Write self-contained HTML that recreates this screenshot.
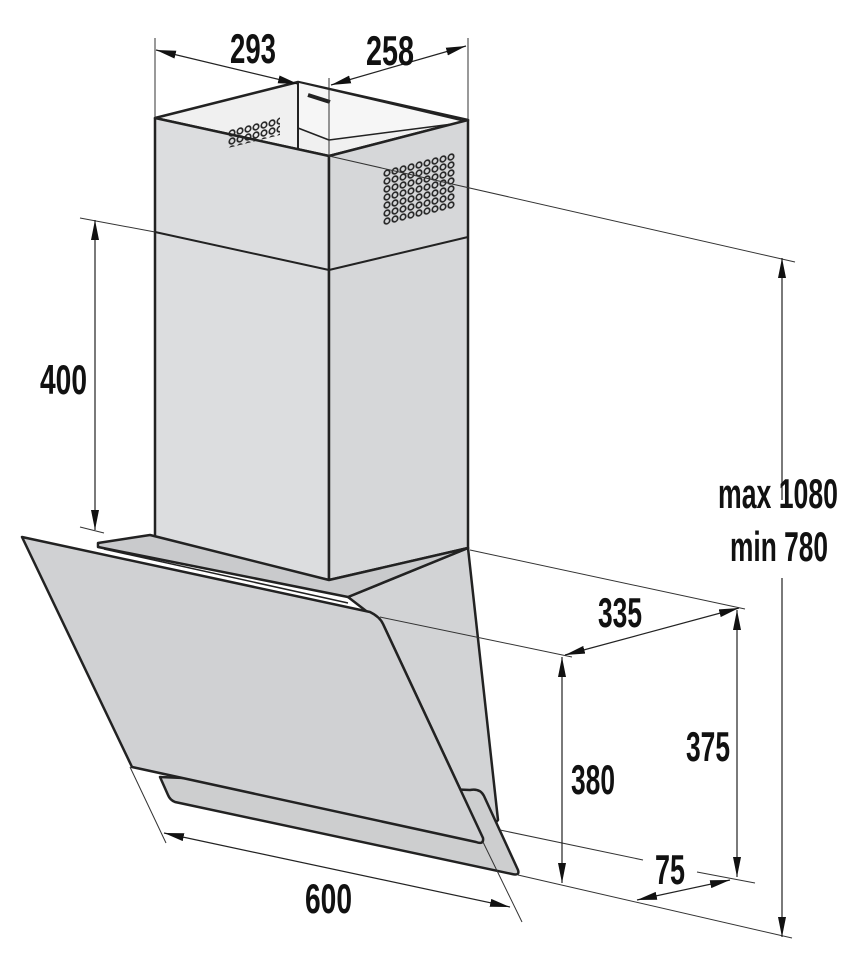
<!DOCTYPE html>
<html><head><meta charset="utf-8"><style>
html,body{margin:0;padding:0;background:#fff;}
svg{display:block}
text{font-family:"Liberation Sans",sans-serif;fill:#111;}
</style></head><body>
<svg width="867" height="966" viewBox="0 0 867 966" xmlns="http://www.w3.org/2000/svg">
<defs>
<marker id="a" viewBox="0 0 20 8" refX="20" refY="4" markerWidth="20" markerHeight="8" markerUnits="userSpaceOnUse" orient="auto-start-reverse"><path d="M0,0 L20,4 L0,8 Z" fill="#111"/></marker>
<pattern id="dots" width="8" height="8" patternUnits="userSpaceOnUse"><circle cx="4" cy="4" r="2.8" fill="none" stroke="#222" stroke-width="1.6"/></pattern>
</defs>
<g fill="#dcdddf" stroke="#222" stroke-width="2.5" stroke-linejoin="round">
<polygon points="155,118 298,82 468,120 329,156" fill="#f0f0f0"/>
<polygon points="298,82 298,128 329,140 468,122" fill="#f6f6f6" stroke-width="1.5"/>
<!-- body behind glass -->
<polygon points="468,548 498,820 483,838 383,624 348,597" fill="#d2d3d5"/>
<!-- chimney faces -->
<polygon points="155,118 329,156 329,580 155,545" />
<polygon points="329,156 468,120 468,548 329,580" fill="#d6d7d9"/>
<!-- top ledge -->
<polygon points="98,543 150,535 329,580 468,548 348,597 98,547" fill="#c9cacc"/>
<!-- lower tray -->
<path d="M160,777 L470,790 Q480,788 484,796 L518,870 Q520,876 512,874 L175,802 Q170,800 168,795 Z" fill="#cdcecf"/>
<!-- glass -->
<path d="M22,537 L370,612 Q380,617 383,624 L483,838 Q484,845 476,842 L132,767 Z" fill="#d0d1d3"/>
</g>
<g fill="none" stroke="#222" stroke-width="2">
<line x1="155" y1="232" x2="329" y2="270"/>
<line x1="329" y1="270" x2="468" y2="237"/>
<line x1="298" y1="82" x2="298" y2="150"/>
<line x1="308" y1="95" x2="330" y2="102" stroke-width="4"/>
<line x1="104" y1="549" x2="348" y2="603" stroke-width="1.5"/>
</g>
<g transform="translate(383,170) skewY(-14)"><rect width="72" height="56" fill="url(#dots)"/></g>
<g transform="translate(228,130) skewY(-14)"><rect width="52" height="18" fill="url(#dots)"/></g>
<g stroke="#333" stroke-width="1" fill="none">
<line x1="155" y1="38" x2="155" y2="118"/>
<line x1="468" y1="38" x2="468" y2="120"/>
<line x1="329" y1="78" x2="329" y2="156"/>
<line x1="329" y1="156" x2="795" y2="262"/>
<line x1="80" y1="218" x2="155" y2="232"/>
<line x1="80" y1="527" x2="104" y2="533"/>
<line x1="470" y1="550" x2="745" y2="609"/>
<line x1="380" y1="617" x2="572" y2="657"/>
<line x1="500" y1="830" x2="643" y2="860"/>
<line x1="697" y1="872" x2="755" y2="883"/>
<line x1="518" y1="875" x2="792" y2="938"/>
<line x1="130" y1="767" x2="166" y2="843"/>
<line x1="483" y1="842" x2="522" y2="922"/>
</g>
<g stroke="#222" stroke-width="1.2" marker-start="url(#a)" marker-end="url(#a)">
<line x1="156" y1="50" x2="298" y2="84"/>
<line x1="331" y1="85" x2="466" y2="46"/>
<line x1="95" y1="220" x2="95" y2="530"/>
<line x1="565" y1="655" x2="739" y2="608"/>
<line x1="562" y1="657" x2="562" y2="883"/>
<line x1="737" y1="610" x2="737" y2="877"/>
<line x1="637" y1="900" x2="730" y2="880"/>
<line x1="164" y1="833" x2="510" y2="907"/>
</g>
<g stroke="#222" stroke-width="1.2">
<line x1="782" y1="258" x2="782" y2="500" marker-start="url(#a)"/>
<line x1="782" y1="578" x2="782" y2="937" marker-end="url(#a)"/>
</g>
<g font-size="42" font-weight="bold">
<text x="230" y="63" textLength="46" lengthAdjust="spacingAndGlyphs">293</text>
<text x="366" y="65" textLength="48" lengthAdjust="spacingAndGlyphs">258</text>
<text x="40" y="394" textLength="47" lengthAdjust="spacingAndGlyphs">400</text>
<text x="718" y="508" textLength="120" lengthAdjust="spacingAndGlyphs">max 1080</text>
<text x="730" y="561" textLength="98" lengthAdjust="spacingAndGlyphs">min 780</text>
<text x="598" y="627" textLength="44" lengthAdjust="spacingAndGlyphs">335</text>
<text x="686" y="761" textLength="44" lengthAdjust="spacingAndGlyphs">375</text>
<text x="571" y="794" textLength="44" lengthAdjust="spacingAndGlyphs">380</text>
<text x="655" y="884" textLength="30" lengthAdjust="spacingAndGlyphs">75</text>
<text x="305" y="913" textLength="47" lengthAdjust="spacingAndGlyphs">600</text>
</g>
</svg>
</body></html>
